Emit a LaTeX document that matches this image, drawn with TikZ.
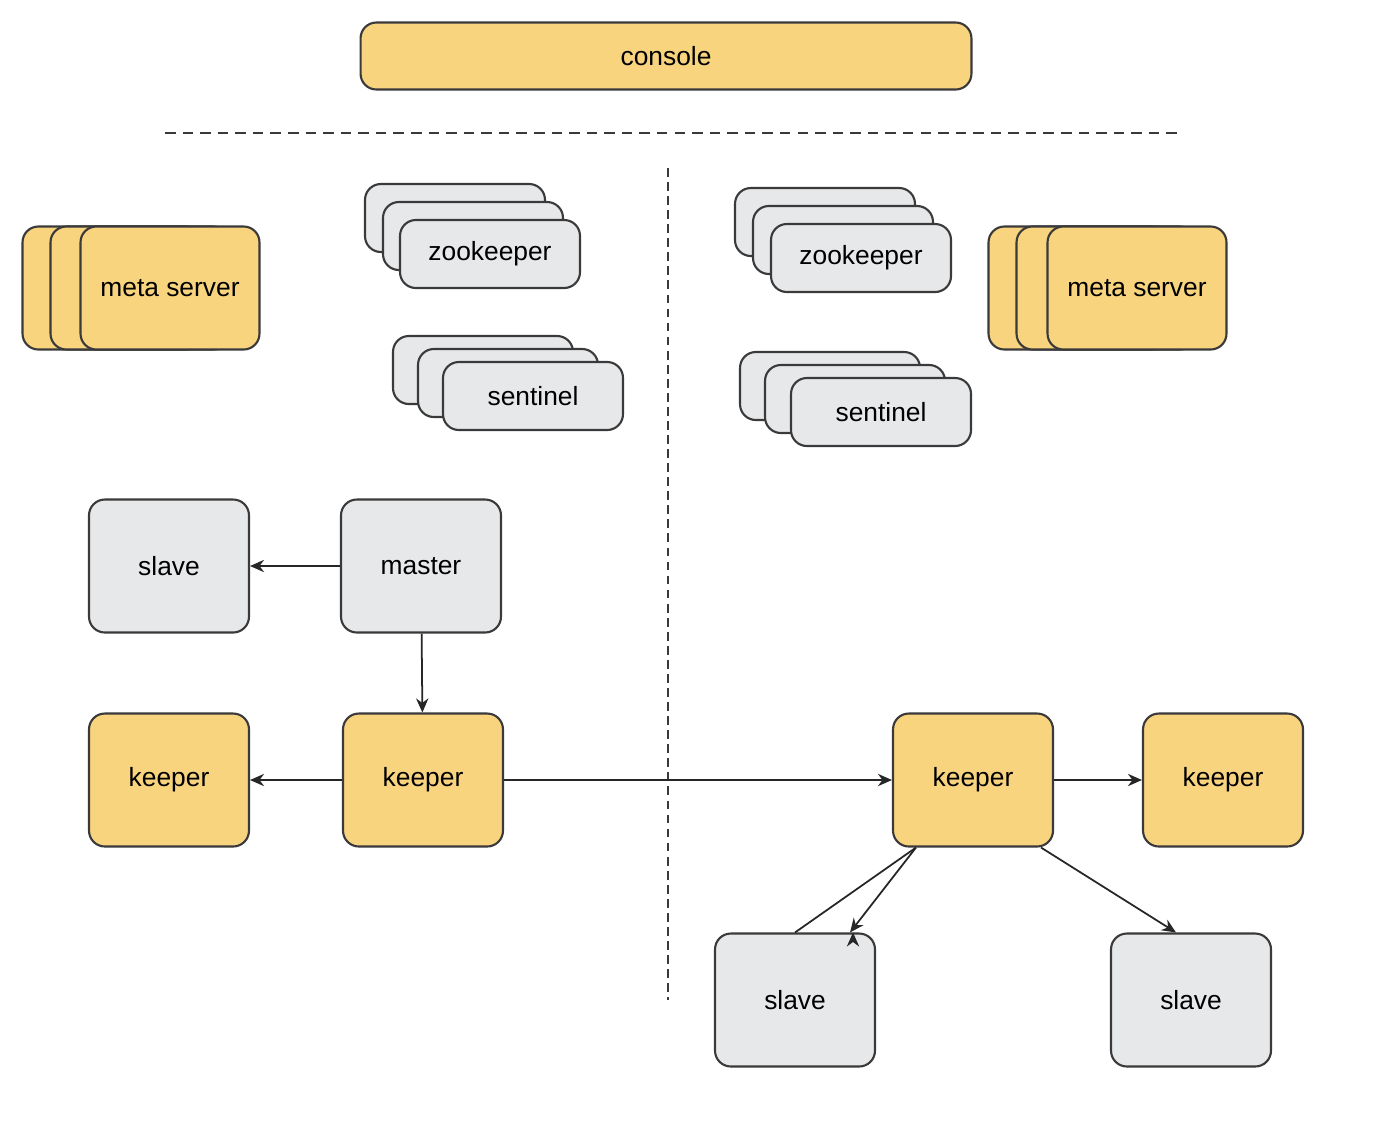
\documentclass[tikz,border=0pt]{standalone}
\usepackage{fontspec}
\setmainfont{Liberation Sans}
\usetikzlibrary{arrows.meta}
\definecolor{ylw}{HTML}{F9D47E}
\definecolor{gry}{HTML}{E7E8EA}
\definecolor{edg}{HTML}{3A3A3A}
\tikzset{
  box/.style={draw=edg, line width=1.2pt, rounded corners=9pt, minimum width=3.2cm, minimum height=2.66cm, font=\fontsize{15}{18}\selectfont},
  yel/.style={box, fill=ylw},
  grey/.style={box, fill=gry},
  flat/.style={minimum width=3.6cm, minimum height=1.36cm},
  link/.style={-{Stealth[length=8pt,width=7pt]}, line width=1pt, draw=black!85}
}
\begin{document}
\begin{tikzpicture}[x=0.02cm, y=-0.02cm]
        \useasboundingbox[fill=white] (0,0) rectangle (1388,1127);

        \node[yel, minimum width=12.22cm, minimum height=1.34cm] (console) at (666,56) {console};
        \draw[edg, line width=1pt, dash pattern=on 6pt off 4pt] (165,133) -- (1180,133);
        \draw[edg, line width=1pt, dash pattern=on 5pt off 3pt] (668,168) -- (668,1000);

        %%%%%%%%%%%%%%%%%%%%%%%%%%%%%% left side
        \node[yel, minimum width=3.58cm, minimum height=2.46cm] at (112,288) {};
        \node[yel, minimum width=3.58cm, minimum height=2.46cm] at (140,288) {};
        \node[yel, minimum width=3.58cm, minimum height=2.46cm] (metaL) at (170,288) {meta server};

        \node[grey, flat] at (455,218) {};
        \node[grey, flat] at (473,236) {};
        \node[grey, flat] (zkL) at (490,254) {zookeeper};

        \node[grey, flat] at (483,370) {};
        \node[grey, flat] at (508,383) {};
        \node[grey, flat] (sentL) at (533,396) {sentinel};

        \node[grey] (slaveL) at (169,566) {slave};
        \node[grey] (master) at (421,566) {master};
        \node[yel] (keeperL) at (169,780) {keeper};
        \node[yel] (keeperM) at (423,780) {keeper};

        %%%%%%%%%%%%%%%%%%%%%%%%%%%%%% right side
        \node[grey, flat] at (825,222) {};
        \node[grey, flat] at (843,240) {};
        \node[grey, flat] (zkR) at (861,258) {zookeeper};

        \node[grey, flat] at (830,386) {};
        \node[grey, flat] at (855,399) {};
        \node[grey, flat] (sentR) at (881,412) {sentinel};

        \node[yel, minimum width=3.58cm, minimum height=2.46cm] at (1078,288) {};
        \node[yel, minimum width=3.58cm, minimum height=2.46cm] at (1106,288) {};
        \node[yel, minimum width=3.58cm, minimum height=2.46cm] (metaR) at (1137,288) {meta server};

        \node[yel] (keeperR) at (973,780) {keeper};
        \node[yel] (keeperRR) at (1223,780) {keeper};
        \node[grey] (slaveA) at (795,1000) {slave};
        \node[grey] (slaveB) at (1191,1000) {slave};

        %%%%%%%%%%%%%%%%%%%%%%%%%%%%%% links
        \draw[link] (master) -- (slaveL);
        \draw[link] (master) -- (keeperM);
        \draw[link] (keeperM) -- (keeperL);
        \draw[link] (keeperM) -- (keeperR);
        \draw[link] (keeperR) -- (keeperRR);
        \draw[link] (keeperR.south west) ++(24,0) -- (slaveA.north) ++(58,0);
        \draw[link] ([xshift=0.48cm]keeperR.south west) -- ([xshift=1.1cm]slaveA.north);
        \draw[link] ([xshift=-0.26cm]keeperR.south east) -- ([xshift=-0.3cm]slaveB.north);
\end{tikzpicture}
\end{document}
